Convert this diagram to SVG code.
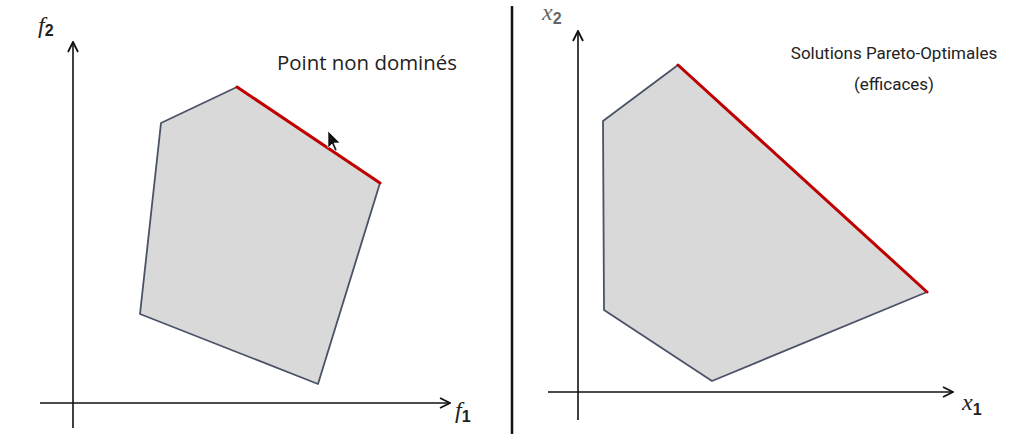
<svg xmlns="http://www.w3.org/2000/svg" width="1011" height="439" viewBox="0 0 1011 439">
<defs>
<marker id="arr" viewBox="0 0 12 12" refX="11" refY="6" markerWidth="12" markerHeight="12" markerUnits="userSpaceOnUse" orient="auto">
<path d="M1,1 L11,6 L1,11" fill="none" stroke="#111" stroke-width="1.8"/>
</marker>
<style>
.ax{stroke:#111;stroke-width:1.6;fill:none}
.poly{fill:#d9d9d9;stroke:#4a5366;stroke-width:1.8;stroke-linejoin:round}
.pareto{stroke:#c00000;stroke-width:3;fill:none;stroke-linecap:round}
.lbl{font-family:"Open Sans","Liberation Sans",sans-serif;font-size:20px;fill:#222}
.lblr{font-family:Roboto,"Liberation Sans",sans-serif;font-size:17px;fill:#222}
.math{font-family:"Liberation Serif",serif;font-style:italic;font-size:24px;fill:#222}
.sub{font-family:"Liberation Sans",sans-serif;font-style:normal;font-weight:bold;font-size:16px;fill:#222}
</style>
</defs>
<rect width="1011" height="439" fill="#fff"/>
<line x1="512" y1="6" x2="512" y2="434" stroke="#111" stroke-width="2.5"/>
<g id="left-axes">
<line class="ax" x1="73" y1="428" x2="73" y2="42" marker-end="url(#arr)"/>
<line class="ax" x1="40" y1="403" x2="450" y2="403" marker-end="url(#arr)"/>
<text class="math" x="38" y="33">f<tspan class="sub" dy="3">2</tspan></text>
<text class="math" x="455" y="418">f<tspan class="sub" dy="4">1</tspan></text>
</g>
<g id="left-region">
<polygon class="poly" points="237,87 380,183 318,384 140,314 161,123"/>
<line class="pareto" x1="237" y1="87" x2="380" y2="183"/>
</g>
<text id="label-left" class="lbl" x="277" y="70" textLength="180" lengthAdjust="spacingAndGlyphs">Point non dominés</text>
<path id="cursor" d="M328,131 L328,148 L332,144 L335,151 L337,150 L334,143 L340,143 Z" fill="#111" stroke="#fff" stroke-width="0.6"/>
<g id="right-axes">
<line class="ax" x1="578" y1="420" x2="578" y2="31" marker-end="url(#arr)"/>
<line class="ax" x1="548" y1="392" x2="953" y2="392" marker-end="url(#arr)"/>
<text class="math" x="542" y="20" style="fill:#666">x<tspan class="sub" dy="4" style="fill:#666">2</tspan></text>
<text class="math" x="962" y="410">x<tspan class="sub" dy="5">1</tspan></text>
</g>
<g id="right-region">
<polygon class="poly" points="678,65 927,292 712,381 604,310 603,121"/>
<line class="pareto" x1="678" y1="65" x2="927" y2="292"/>
</g>
<g id="label-right">
<text class="lblr" x="894" y="59" text-anchor="middle">Solutions Pareto-Optimales</text>
<text class="lblr" x="894" y="90" text-anchor="middle">(efficaces)</text>
</g>
</svg>
